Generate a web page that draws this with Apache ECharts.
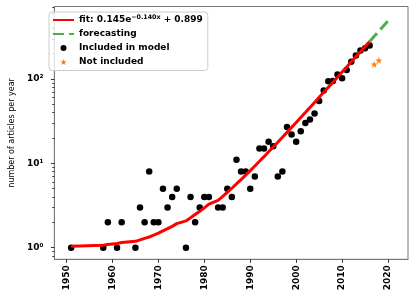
<!DOCTYPE html>
<html><head><meta charset="utf-8">
<script src="https://cdn.jsdelivr.net/npm/echarts@6/dist/echarts.min.js"></script>
<style>html,body{margin:0;padding:0;background:#fff}#c{width:415px;height:299px}</style>
</head><body><div id="c"></div>
<script>
// ---- data ----
const includedYears = [1951,1958,1959,1961,1962,1965,1966,1967,1968,1969,1970,1971,1972,1973,1974,
  1976,1977,1978,1979,1980,1981,1983,1984,1985,1986,1987,1988,1989,1990,1991,1992,1993,1994,1995,
  1996,1997,1998,1999,2000,2001,2002,2003,2004,2005,2006,2007,2008,2009,2010,2011,2012,2013,2014,2015,2016];
const includedCounts = [1,1,2,1,2,1,3,2,8,2,2,5,3,4,5,
  1,4,2,3,4,4,3,3,5,4,11,8,8,5,7,15,15,18,16,
  7,8,27,22,18,24,30,33,39,55,73,94,95,113,102,128,160,190,217,232,250];
const excludedYears = [2017, 2018];
const excludedCounts = [149, 166];
const fitYears = includedYears;
const fitValues = [1.04,1.07,1.09,1.12,1.15,1.19,1.24,1.29,1.34,1.41,1.49,1.58,1.68,1.79,1.93,
  2.08,2.26,2.47,2.70,2.97,3.28,3.64,4.05,4.53,5.07,5.70,6.42,7.25,8.21,9.31,10.6,12.0,13.7,15.6,
  17.8,20.4,23.3,26.7,30.5,35.0,40.1,46.0,52.8,60.6,69.5,79.9,91.7,105,121,139,160,184,211,243,279];
const forecastYears = [2016,2017,2018,2019,2020];
const forecastValues = [279,321,369,425,488];
const xTickValues = [1950,1960,1970,1980,1990,2000,2010,2020];
const xTickLabels = ['1950','1960','1970','1980','1990','2000','2010','2020'];
const yTickValues = [1,10,100];
const yTickLabels = ['10\u2070','10\u00b9','10\u00b2'];
const yMinorTickValues = [0.8,0.9,2,3,4,5,6,7,8,9,20,30,40,50,60,70,80,90,200,300,400,500,600,700];

const FONT = 'DejaVu Sans';
const pairs = (xs, ys) => xs.map((x, i) => [x, ys[i]]);
const starPath = 'path://M0,-10L2.35,-3.24L9.51,-3.09L3.8,1.24L5.88,8.09L0,4L-5.88,8.09L-3.8,1.24L-9.51,-3.09L-2.35,-3.24Z';
const Y_MIN = 0.7288, Y_MAX = 723.6;
const nearestIndex = (arr, v, f) => {
  let best = 0;
  arr.forEach((t, i) => { if (Math.abs(f(t) - f(v)) < Math.abs(f(arr[best]) - f(v))) best = i; });
  return best;
};

const chart = echarts.init(document.getElementById('c'), null, {renderer: 'canvas'});
chart.setOption({
  animation: false,
  grid: {left: 44, right: 7, top: 6.5, bottom: 39.7, show: true, borderColor: '#777', borderWidth: 1},
  legend: {
    orient: 'vertical', left: 49, top: 12,
    itemWidth: 21, itemHeight: 6, itemGap: 5, itemTextGap: 6,
    padding: [2, 5, 4, 3],
    backgroundColor: 'rgba(255,255,255,0.8)', borderColor: '#ccc', borderWidth: 1, borderRadius: 3,
    data: [
      {name: 'fit', itemStyle: {opacity: 0}},
      {name: 'forecasting', itemStyle: {opacity: 0}},
      'Included in model', 'Not included'],
    formatter: name => name === 'fit' ? '{b|fit: 0.145e}{s|\u22120.140x}{b| + 0.899}' : '{b|' + name + '}',
    textStyle: {
      rich: {
        b: {fontFamily: FONT, fontWeight: 'bold', fontSize: 9, color: '#000', lineHeight: 12},
        s: {fontFamily: FONT, fontWeight: 'bold', fontSize: 6.3, color: '#000', lineHeight: 12, verticalAlign: 'top'}
      }
    }
  },
  xAxis: {
    type: 'value', min: 1947.35, max: 2024.35,
    axisLine: {lineStyle: {color: '#777', width: 1}},
    splitLine: {show: false},
    axisTick: {customValues: xTickValues, length: 3.5, lineStyle: {color: '#333'}},
    axisLabel: {customValues: xTickValues, rotate: 90, margin: 6, fontSize: 9, fontWeight: 'bold',
      color: '#000', fontFamily: FONT,
      formatter: v => xTickLabels[nearestIndex(xTickValues, v, t => t)]}
  },
  yAxis: [{
    type: 'log', logBase: 10, min: Y_MIN, max: Y_MAX,
    name: 'number of articles per year', nameLocation: 'middle', nameGap: 33,
    nameTextStyle: {fontSize: 8, color: '#000', fontFamily: FONT},
    axisLine: {show: true, lineStyle: {color: '#777', width: 1}},
    splitLine: {show: false},
    axisTick: {customValues: yTickValues, length: 3.5, lineStyle: {color: '#333'}},
    axisLabel: {customValues: yTickValues, margin: 11, fontSize: 9, fontWeight: 'bold', color: '#000',
      fontFamily: FONT,
      formatter: v => yTickLabels[nearestIndex(yTickValues, v, Math.log10)]}
  }, {
    type: 'log', logBase: 10, min: Y_MIN, max: Y_MAX, position: 'left',
    axisLine: {show: false}, splitLine: {show: false},
    axisTick: {customValues: yMinorTickValues, length: 2, lineStyle: {color: '#333'}},
    axisLabel: {show: false}
  }],
  series: [
    {name: 'Included in model', type: 'scatter', data: pairs(includedYears, includedCounts),
      symbol: 'circle', symbolSize: 6.5, itemStyle: {color: '#000', opacity: 1}, z: 2},
    {name: 'Not included', type: 'scatter', data: pairs(excludedYears, excludedCounts),
      symbol: starPath, symbolSize: 7, itemStyle: {color: '#ff7f0e', opacity: 1}, z: 2},
    {name: 'fit', type: 'line', data: pairs(fitYears, fitValues), symbol: 'none',
      lineStyle: {color: '#ff0000', width: 3}, itemStyle: {color: '#ff0000'}, z: 3},
    {name: 'forecasting', type: 'line', data: pairs(forecastYears, forecastValues), symbol: 'none',
      lineStyle: {color: '#4daf4a', width: 3, type: [11, 5]}, itemStyle: {color: '#4daf4a'}, z: 3}
  ]
});
</script>
</body></html>
